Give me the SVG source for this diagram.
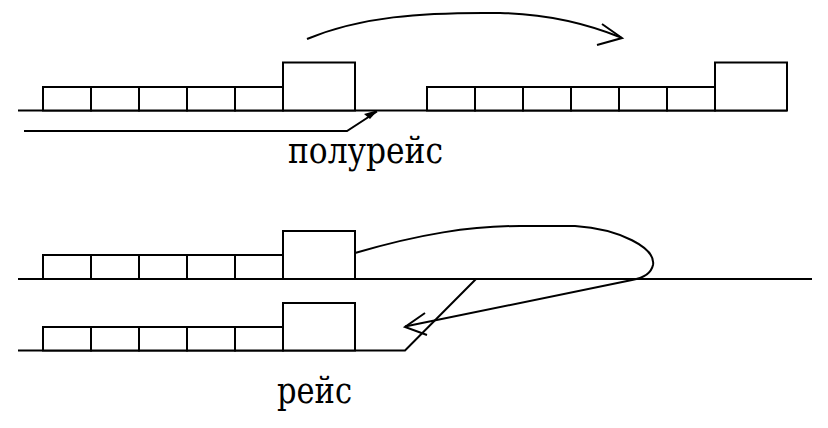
<svg xmlns="http://www.w3.org/2000/svg" width="828" height="428" viewBox="0 0 828 428">
<style>
.ln{fill:none;stroke:#000;stroke-width:2;stroke-linejoin:miter}
.bx{fill:#fff;stroke:#000;stroke-width:2}
.lb{font-family:'DejaVu Serif','Liberation Serif',serif;font-size:38px;fill:#000}
</style>
<rect width="828" height="428" fill="#fff"/>
<g id="connectors">
<path class="ln" d="M18,110.5 L787,110.5"/>
<path class="ln" d="M24,131 L347,131 L377,111.5"/>
<polygon points="364,114 378,110 370,119" fill="#000"/>
<path class="ln" d="M307,39 C360,17 420,12 500,13 C550,14 590,25 621,37.5"/>
<path class="ln" d="M602,24 L622,38 L597,45"/>
<path class="ln" d="M18,279 L812,279"/>
<path class="ln" d="M18,350.5 L405,350.5 L476,279"/>
<path class="ln" d="M355,253 C420,234 470,226 520,226 L575,226 C620,229 656,248 653,265 C651,274 644,278 632,280 L405,326.5"/>
<path class="ln" d="M425,313 L405,327 L427,335"/>
</g>
<g id="train-half-left">
<rect class="bx" x="43" y="87" width="48" height="23.5"/>
<rect class="bx" x="91" y="87" width="48" height="23.5"/>
<rect class="bx" x="139" y="87" width="48" height="23.5"/>
<rect class="bx" x="187" y="87" width="48" height="23.5"/>
<rect class="bx" x="235" y="87" width="48" height="23.5"/>
<rect class="bx" x="283" y="62.5" width="72" height="48"/>
</g>
<g id="train-half-right">
<rect class="bx" x="427" y="87" width="48" height="23.5"/>
<rect class="bx" x="475" y="87" width="48" height="23.5"/>
<rect class="bx" x="523" y="87" width="48" height="23.5"/>
<rect class="bx" x="571" y="87" width="48" height="23.5"/>
<rect class="bx" x="619" y="87" width="48" height="23.5"/>
<rect class="bx" x="667" y="87" width="48" height="23.5"/>
<rect class="bx" x="715" y="62.5" width="72" height="48"/>
</g>
<g id="train-trip-top">
<rect class="bx" x="43" y="255" width="48" height="24"/>
<rect class="bx" x="91" y="255" width="48" height="24"/>
<rect class="bx" x="139" y="255" width="48" height="24"/>
<rect class="bx" x="187" y="255" width="48" height="24"/>
<rect class="bx" x="235" y="255" width="48" height="24"/>
<rect class="bx" x="283" y="231" width="72" height="48"/>
</g>
<g id="train-trip-bottom">
<rect class="bx" x="43" y="327" width="48" height="23.5"/>
<rect class="bx" x="91" y="327" width="48" height="23.5"/>
<rect class="bx" x="139" y="327" width="48" height="23.5"/>
<rect class="bx" x="187" y="327" width="48" height="23.5"/>
<rect class="bx" x="235" y="327" width="48" height="23.5"/>
<rect class="bx" x="283" y="303" width="72" height="47.5"/>
</g>
<g id="labels">
<text class="lb" x="288" y="163" textLength="155" lengthAdjust="spacingAndGlyphs">полурейс</text>
<text class="lb" x="277" y="403" textLength="75" lengthAdjust="spacingAndGlyphs">рейс</text>
</g>
</svg>
